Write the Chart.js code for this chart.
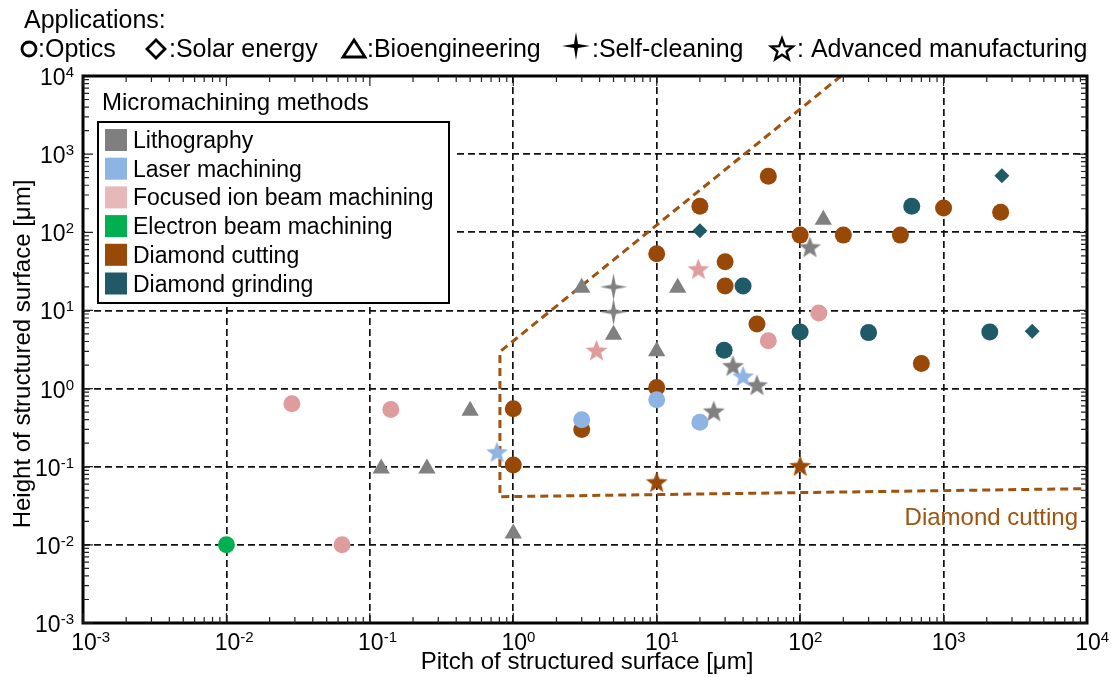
<!DOCTYPE html>
<html>
<head>
<meta charset="utf-8">
<script src="https://cdn.jsdelivr.net/npm/chart.js@4.4.0/dist/chart.umd.min.js"></script>
<style>
  body { margin: 0; background: #fff; }
</style>
</head>
<body>
<canvas id="chart" width="1111" height="677"></canvas>
<script>
// Decades shown on both axes
const xDecades = [-3, -2, -1, 0, 1, 2, 3, 4];
const yDecades = [-3, -2, -1, 0, 1, 2, 3, 4];

// Lithography
const lithoTriX = [0.12, 0.25, 0.5, 1, 3, 5, 10, 14, 145];
const lithoTriY = [0.095, 0.095, 0.52, 0.014, 19.5, 4.9, 3.0, 19.5, 145];
const lithoStarX = [117, 34, 50, 25];
const lithoStarY = [63, 1.9, 1.08, 0.5];
const lithoCleanX = [5, 5];
const lithoCleanY = [20, 9.6];

// Laser machining
const laserCircX = [3, 10, 20];
const laserCircY = [0.4, 0.72, 0.37];
const laserStarX = [0.77, 40];
const laserStarY = [0.15, 1.4];

// Focused ion beam machining
const fibCircX = [0.0286, 0.14, 0.064, 60, 135];
const fibCircY = [0.64, 0.54, 0.01, 4.1, 9.3];
const fibStarX = [3.8, 19.5];
const fibStarY = [3.0, 33];

// Electron beam machining
const ebmCircX = [0.01];
const ebmCircY = [0.01];

// Diamond cutting
const dcCircX = [1, 1, 3, 10, 10, 20, 60, 30, 30, 50, 100, 200, 500, 1000, 2500, 700];
const dcCircY = [0.55, 0.105, 0.3, 1.03, 53, 215, 520, 42, 20.5, 6.7, 92, 92, 92, 205, 180, 2.1];
const dcStarX = [10, 100];
const dcStarY = [0.062, 0.1];

// Diamond grinding
const dgCircX = [600, 100, 300, 2100, 40, 29.5];
const dgCircY = [215, 5.3, 5.2, 5.3, 20.5, 3.1];
const dgDiaX = [20, 2550, 4150];
const dgDiaY = [105, 530, 5.4];

// Diamond cutting region boundary
const dcBoundX = [193, 0.807, 0.807, 10000];
const dcBoundY = [10000, 2.96, 0.0413, 0.0524];

// Legend
const methodNames = ['Lithography', 'Laser machining', 'Focused ion beam machining',
                     'Electron beam machining', 'Diamond cutting', 'Diamond grinding'];
const methodColors = ['#7f7f7f', '#8db4e2', '#e6b9b8', '#00b050', '#984807', '#215968'];

const colLitho = '#808080';
const colLaser = '#8db4e2';
const colFib = '#de9c9c';
const colEbm = '#00b050';
const colDc = '#984807';
const colDg = '#1f5a68';

const FONT = '"Liberation Sans", Arial, sans-serif';

function pts(xs, ys) {
    return xs.map((x, i) => ({ x: x, y: ys[i] }));
}

// Star outline path
function starPath(g, cx, cy, spikes, outer, inner) {
    g.beginPath();
    for (let i = 0; i < spikes * 2; i++) {
        const r = i % 2 ? inner : outer;
        const a = -Math.PI / 2 + i * Math.PI / spikes;
        g.lineTo(cx + Math.cos(a) * r, cy + Math.sin(a) * r);
    }
    g.closePath();
}

// Star shaped point image
function starImage(color, spikes, outer, inner) {
    const size = Math.ceil(outer * 2 + 4);
    const c = document.createElement('canvas');
    c.width = c.height = size;
    const g = c.getContext('2d');
    starPath(g, size / 2, size / 2, spikes, outer, inner);
    g.fillStyle = color;
    g.fill();
    return c;
}

function scatter(label, xs, ys, color, style, radius) {
    return {
        label: label,
        data: pts(xs, ys),
        backgroundColor: color,
        borderColor: color,
        borderWidth: 0,
        pointStyle: style,
        pointRadius: radius,
        showLine: false
    };
}

// Draw "10" with superscript exponent
function sciLabel(ctx, k, x, y, mode) {
    const main = '10';
    const sup = k < 0 ? '-' + Math.abs(k) : String(k);
    ctx.font = '23px ' + FONT;
    const wm = ctx.measureText(main).width;
    ctx.font = '15px ' + FONT;
    const ws = ctx.measureText(sup).width;
    let x0, base;
    if (mode === 'x') {
        x0 = x - wm / 2 + 1;
        base = y;
    } else {
        x0 = x - wm - ws;
        base = y + 9;
    }
    ctx.fillStyle = '#000';
    ctx.textAlign = 'left';
    ctx.textBaseline = 'alphabetic';
    ctx.font = '23px ' + FONT;
    ctx.fillText(main, x0, base);
    ctx.font = '15px ' + FONT;
    ctx.fillText(sup, x0 + wm, base - 8);
}

const decorations = {
    id: 'decorations',
    afterDatasetsDraw(chart) {
        const ctx = chart.ctx;
        const area = chart.chartArea;
        const xs = chart.scales.x;
        const ys = chart.scales.y;
        ctx.save();

        // legend background and box
        ctx.fillStyle = '#fff';
        ctx.fillRect(area.left + 2, area.top + 2, 370, 228);
        ctx.fillStyle = '#000';
        ctx.font = '24px ' + FONT;
        ctx.textAlign = 'left';
        ctx.textBaseline = 'alphabetic';
        ctx.fillText('Micromachining methods', 102, 110);
        ctx.lineWidth = 2;
        ctx.strokeStyle = '#000';
        ctx.strokeRect(98, 122, 351, 181);
        ctx.font = '23px ' + FONT;
        methodNames.forEach((name, i) => {
            const cy = 140 + i * 28.7;
            ctx.fillStyle = methodColors[i];
            ctx.fillRect(105, cy - 11, 22, 22);
            ctx.fillStyle = '#000';
            ctx.fillText(name, 133, cy + 8);
        });

        // region label
        ctx.fillStyle = '#a0520f';
        ctx.font = '24px ' + FONT;
        ctx.textAlign = 'right';
        ctx.fillText('Diamond cutting', 1078, 525);

        // frame
        ctx.strokeStyle = '#000';
        ctx.lineWidth = 3;
        ctx.strokeRect(area.left, area.top, area.right - area.left, area.bottom - area.top);

        // minor and major ticks on all sides
        ctx.lineWidth = 1.2;
        ctx.strokeStyle = '#222';
        ctx.beginPath();
        for (let k = -3; k < 4; k++) {
            for (let m = 1; m <= 9; m++) {
                const v = m * Math.pow(10, k);
                const len = m === 1 ? 10 : 6;
                const px = xs.getPixelForValue(v);
                const py = ys.getPixelForValue(v);
                ctx.moveTo(px, area.bottom); ctx.lineTo(px, area.bottom - len);
                ctx.moveTo(px, area.top); ctx.lineTo(px, area.top + len);
                ctx.moveTo(area.left, py); ctx.lineTo(area.left + len, py);
                ctx.moveTo(area.right, py); ctx.lineTo(area.right - len, py);
            }
        }
        ctx.stroke();

        // tick labels
        xDecades.forEach(k => sciLabel(ctx, k, xs.getPixelForValue(Math.pow(10, k)), 650, 'x'));
        yDecades.forEach(k => sciLabel(ctx, k, 74, ys.getPixelForValue(Math.pow(10, k)), 'y'));

        // axis titles
        ctx.fillStyle = '#000';
        ctx.font = '24px ' + FONT;
        ctx.textAlign = 'center';
        ctx.fillText('Pitch of structured surface [μm]', 587, 669);
        ctx.save();
        ctx.translate(30, 354);
        ctx.rotate(-Math.PI / 2);
        ctx.fillText('Height of structured surface [μm]', 0, 0);
        ctx.restore();

        // applications header
        ctx.font = '25px ' + FONT;
        ctx.textAlign = 'left';
        ctx.fillText('Applications:', 24, 28);
        const base = 57;
        ctx.lineWidth = 2.8;
        ctx.strokeStyle = '#000';
        ctx.beginPath();
        ctx.arc(29, 49, 7, 0, Math.PI * 2);
        ctx.stroke();
        ctx.fillText(':Optics', 38, base);
        ctx.beginPath();
        ctx.moveTo(156, 40); ctx.lineTo(165, 49); ctx.lineTo(156, 58); ctx.lineTo(147, 49);
        ctx.closePath();
        ctx.stroke();
        ctx.fillText(':Solar energy', 169, base);
        ctx.beginPath();
        ctx.moveTo(354, 40); ctx.lineTo(365, 57); ctx.lineTo(343, 57);
        ctx.closePath();
        ctx.stroke();
        ctx.fillText(':Bioengineering', 367, base);
        starPath(ctx, 576, 46, 4, 14, 2.8);
        ctx.fill();
        ctx.fillText(':Self-cleaning', 592, base);
        starPath(ctx, 782, 50, 5, 11.5, 4.8);
        ctx.lineWidth = 2.4;
        ctx.stroke();
        ctx.fillText(': Advanced manufacturing', 797, base);

        ctx.restore();
    }
};

const star5 = c => starImage(c, 5, 11.5, 4.8);
const star4 = c => starImage(c, 4, 13.5, 3.2);

const datasets = [
    scatter('Laser stars', laserStarX, laserStarY, colLaser, star5(colLaser), 11),
    scatter('Laser', laserCircX, laserCircY, colLaser, 'circle', 8.5),
    scatter('Litho stars', lithoStarX, lithoStarY, colLitho, star5(colLitho), 11),
    scatter('Litho self-cleaning', lithoCleanX, lithoCleanY, colLitho, star4(colLitho), 13),
    scatter('Litho', lithoTriX, lithoTriY, colLitho, 'triangle', 10),
    scatter('FIB stars', fibStarX, fibStarY, colFib, star5(colFib), 11),
    scatter('FIB', fibCircX, fibCircY, colFib, 'circle', 8.5),
    scatter('EBM', ebmCircX, ebmCircY, colEbm, 'circle', 8.5),
    scatter('DG solar', dgDiaX, dgDiaY, colDg, 'rectRot', 7.5),
    scatter('DG', dgCircX, dgCircY, colDg, 'circle', 8.5),
    scatter('DC stars', dcStarX, dcStarY, colDc, star5(colDc), 11),
    scatter('DC', dcCircX, dcCircY, colDc, 'circle', 8.5),
    {
        label: 'Diamond cutting region',
        data: pts(dcBoundX, dcBoundY),
        showLine: true,
        fill: false,
        borderColor: '#a0520f',
        borderWidth: 3,
        borderDash: [8, 5],
        pointRadius: 0,
        tension: 0
    }
];

new Chart(document.getElementById('chart'), {
    type: 'scatter',
    data: { datasets: datasets },
    options: {
        responsive: false,
        animation: false,
        layout: { padding: { left: 83, top: 76, right: 24, bottom: 54 } },
        plugins: { legend: { display: false }, tooltip: { enabled: false } },
        scales: {
            x: {
                type: 'logarithmic',
                min: 1e-3,
                max: 1e4,
                afterBuildTicks: s => { s.ticks = xDecades.map(k => ({ value: Math.pow(10, k) })); },
                ticks: { display: false },
                grid: { color: '#111', lineWidth: 1.7, drawTicks: false },
                border: { display: false, dash: [7, 4] }
            },
            y: {
                type: 'logarithmic',
                min: 1e-3,
                max: 1e4,
                afterBuildTicks: s => { s.ticks = yDecades.map(k => ({ value: Math.pow(10, k) })); },
                ticks: { display: false },
                grid: { color: '#111', lineWidth: 1.7, drawTicks: false },
                border: { display: false, dash: [7, 4] }
            }
        }
    },
    plugins: [decorations]
});
</script>
</body>
</html>
